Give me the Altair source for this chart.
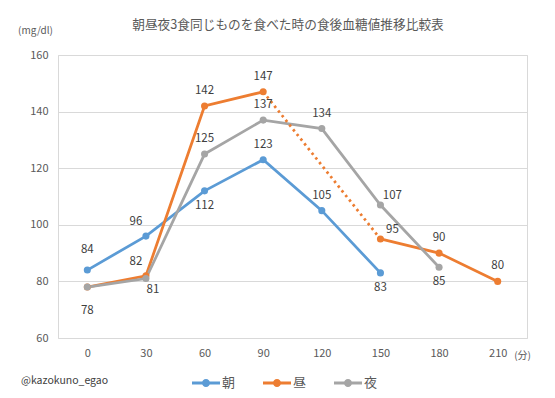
import altair as alt
import pandas as pd

# ---- data ----
times = [0, 30, 60, 90, 120, 150, 180, 210]
series_names = ["朝", "昼", "夜"]
asa = [84, 96, 112, 123, 105, 83, None, None]
hiru = [78, 82, 142, 147, None, 95, 90, 80]
yoru = [78, 81, 125, 137, 134, 107, 85, None]
colors = ["#5B9BD5", "#ED7D31", "#A5A5A5"]

# label placement (t=above, b=below, tl/tr/br = diagonal, t2/b2 = further away)
# (昼's 78 at 0 sits exactly under 夜's identical label)
asa_pos = ["t2", "tl", "b", "t", "t", "b", None, None]
hiru_pos = [None, "tl", "t", "t", None, "tr", "t", "t"]
yoru_pos = ["b2", "br", "t", "t", "t", "tr", "b", None]

offsets = {"t": (0, -15), "b": (0, 15), "t2": (0, -20), "b2": (0, 24),
           "tl": (-10, -14), "tr": (12, -9), "br": (7, 11)}

rows, bridge = [], []
for name, vals, poss in zip(series_names, [asa, hiru, yoru], [asa_pos, hiru_pos, yoru_pos]):
    seg = 0
    prev = None
    gap = False
    for t, v, p in zip(times, vals, poss):
        if v is None:
            gap = True if prev is not None else gap
            continue
        if gap and prev is not None:
            seg += 1
            bridge.append({"series": name, "time": prev[0], "value": prev[1], "bid": f"{name}{seg}"})
            bridge.append({"series": name, "time": t, "value": v, "bid": f"{name}{seg}"})
            gap = False
        rows.append({"series": name, "time": t, "value": v, "seg": f"{name}{seg}", "pos": p})
        prev = (t, v)

df = pd.DataFrame(rows)
bdf = pd.DataFrame(bridge)

font = "Noto Sans CJK JP"
color_scale = alt.Scale(domain=series_names, range=colors)

sym_path = ("M-1,-0.1 L1,-0.1 L1,0.1 L-1,0.1 Z "
            "M0.29,0 A0.29,0.29 0 1,1 -0.29,0 A0.29,0.29 0 1,1 0.29,0 Z")
legend = alt.Legend(
    orient="none", legendX=134, legendY=314, direction="horizontal", title=None,
    symbolType=sym_path, symbolSize=784, symbolStrokeWidth=0, symbolOpacity=1,
    labelFontSize=13, labelColor="#595959", labelOffset=2, columnPadding=27,
    padding=0, labelFont=font,
)

x_enc = alt.X(
    "time:O",
    sort=times,
    scale=alt.Scale(domain=times),
    axis=alt.Axis(
        labelAngle=0, domain=False, ticks=False, grid=False, labelPadding=9,
        labelFontSize=11, labelColor="#595959",
        title="(分)", titleAngle=0, titleX=464, titleY=17, titleAlign="center",
        titleBaseline="middle", titleFontSize=10, titleFontWeight="normal", titleColor="#595959",
    ),
)
y_enc = alt.Y(
    "value:Q",
    scale=alt.Scale(domain=[60, 160], nice=False, zero=False),
    axis=alt.Axis(
        values=[60, 80, 100, 120, 140, 160], grid=True, gridColor="#D9D9D9", domain=False,
        ticks=False, labelPadding=10, labelFontSize=11, labelColor="#595959",
        title="(mg/dl)", titleAngle=0, titleX=-23, titleY=-25, titleAlign="center",
        titleBaseline="middle", titleFontSize=10, titleFontWeight="normal", titleColor="#595959",
    ),
)

stroke_enc = alt.Stroke("series:N", scale=color_scale, sort=series_names, legend=legend)
fill_enc = alt.Fill("series:N", scale=color_scale, sort=series_names, legend=legend)

base = alt.Chart(df)

lines = base.mark_line(strokeWidth=2.75).encode(
    x=x_enc, y=y_enc, stroke=stroke_enc, detail="seg:N",
)

dotted = alt.Chart(bdf).mark_line(strokeWidth=2.75, strokeDash=[2.5, 3.5]).encode(
    x=x_enc, y=y_enc, stroke=stroke_enc, detail="bid:N",
)

points = base.mark_point(filled=True, size=50, opacity=1).encode(
    x=x_enc, y=y_enc, fill=fill_enc,
)

label_layers = []
for key, (dx, dy) in offsets.items():
    label_layers.append(
        base.transform_filter(alt.datum.pos == key)
        .mark_text(dx=dx, dy=dy, fontSize=11.5, color="#404040", baseline="middle", align="center")
        .encode(x=x_enc, y=y_enc, text="value:Q")
    )

title = alt.Chart(pd.DataFrame({"t": ["朝昼夜3食同じものを食べた時の食後血糖値推移比較表"]})).mark_text(
    align="center", baseline="middle", fontSize=12.7, color="#595959"
).encode(text="t:N", x=alt.value(230), y=alt.value(-30))

watermark = alt.Chart(pd.DataFrame({"t": ["@kazokuno_egao"]})).mark_text(
    align="left", baseline="middle", fontSize=10.5, color="#404040"
).encode(text="t:N", x=alt.value(-37), y=alt.value(326))

chart = alt.layer(lines, dotted, points, *label_layers, title, watermark).properties(
    width=469,
    height=283,
    padding={"left": 50, "top": 47, "right": 20, "bottom": 52},
    autosize=alt.AutoSizeParams(type="none"),
).configure(font=font).configure_view(stroke="#D9D9D9")

chart.save("out.html", embed_options={"renderer": "svg", "actions": False})
